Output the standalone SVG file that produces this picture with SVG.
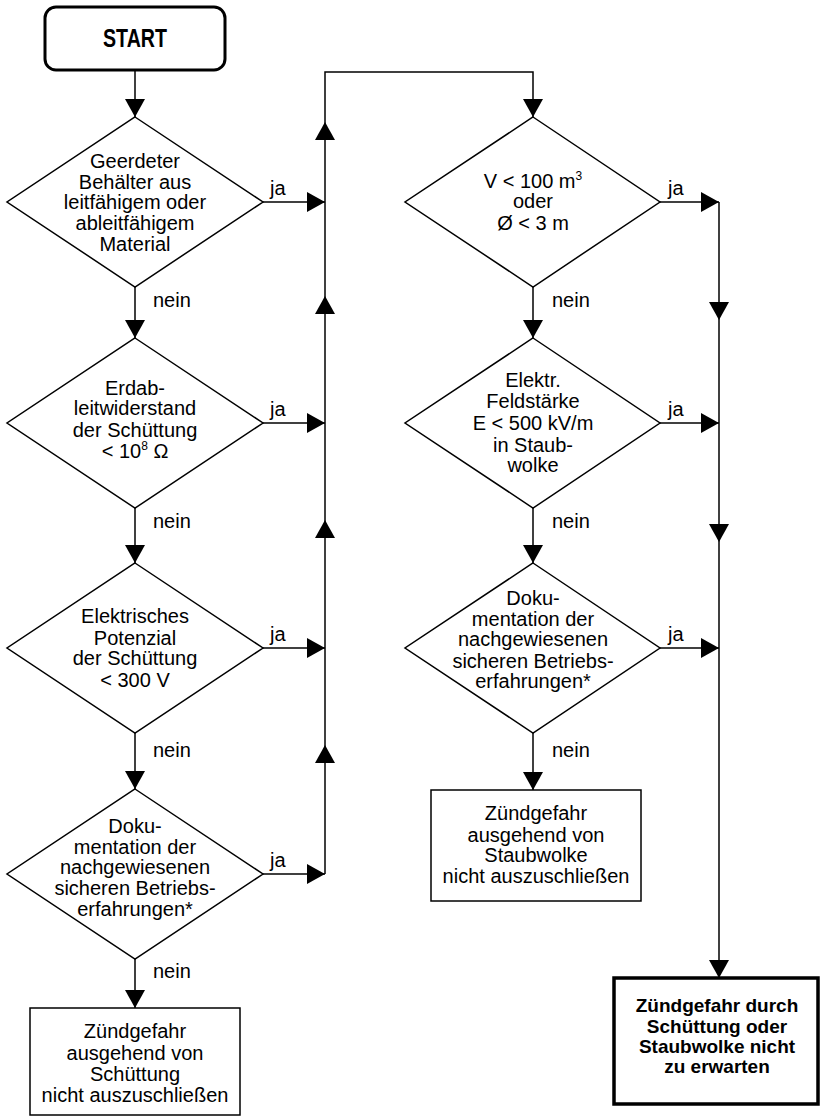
<svg xmlns="http://www.w3.org/2000/svg" width="820" height="1118" viewBox="0 0 820 1118">
<defs>
<marker id="ah" viewBox="0 0 18 20" refX="18" refY="10" markerWidth="18" markerHeight="20" markerUnits="userSpaceOnUse" orient="auto">
<path d="M0,0 L18,10 L0,20 Z" fill="#000"/>
</marker>
<style>
.shape{fill:#fff;stroke:#000;stroke-width:1.5}
.t{font-family:"Liberation Sans",Arial,sans-serif;font-size:20px;fill:#000;text-anchor:middle}
.b{font-family:"Liberation Sans",Arial,sans-serif;font-size:19px;font-weight:bold;fill:#000;text-anchor:middle}
.lbl{font-family:"Liberation Sans",Arial,sans-serif;font-size:20px;fill:#000}
.c{fill:none;stroke:#000;stroke-width:1.5;marker-end:url(#ah)}
.c0{fill:none;stroke:#000;stroke-width:1.5}
</style>
</defs>
<rect width="820" height="1118" fill="#fff"/>

<g id="connectors">
<path class="c" d="M135,70 L135,117"/>
<path class="c" d="M135,287 L135,338"/>
<path class="c" d="M135,508 L135,563"/>
<path class="c" d="M135,733 L135,789"/>
<path class="c" d="M135,959 L135,1008"/>
<path class="c" d="M263,202 L325,202"/>
<path class="c" d="M263,423 L325,423"/>
<path class="c" d="M263,648 L325,648"/>
<path class="c" d="M263,874 L325,874"/>
<path class="c" d="M325,874 L325,745"/>
<path class="c" d="M325,745 L325,520"/>
<path class="c" d="M325,520 L325,296"/>
<path class="c" d="M325,296 L325,122"/>
<path class="c" d="M325,122 L325,72 L533,72 L533,117"/>
<path class="c" d="M533,287 L533,338"/>
<path class="c" d="M533,508 L533,563"/>
<path class="c" d="M533,733 L533,790"/>
<path class="c" d="M660,202 L719,202"/>
<path class="c" d="M660,423 L719,423"/>
<path class="c" d="M660,648 L719,648"/>
<path class="c" d="M719,202 L719,320"/>
<path class="c" d="M719,320 L719,542"/>
<path class="c" d="M719,542 L719,978"/>
<text class="lbl" x="270" y="195">ja</text>
<text class="lbl" x="270" y="416">ja</text>
<text class="lbl" x="270" y="641">ja</text>
<text class="lbl" x="270" y="867">ja</text>
<text class="lbl" x="668" y="195">ja</text>
<text class="lbl" x="668" y="416">ja</text>
<text class="lbl" x="668" y="641">ja</text>
<text class="lbl" x="153" y="307">nein</text>
<text class="lbl" x="153" y="528">nein</text>
<text class="lbl" x="153" y="757">nein</text>
<text class="lbl" x="153" y="978">nein</text>
<text class="lbl" x="552" y="307">nein</text>
<text class="lbl" x="552" y="528">nein</text>
<text class="lbl" x="552" y="757">nein</text>
</g>

<g id="start">
<rect x="45" y="7" width="180" height="63" rx="11" fill="#fff" stroke="#000" stroke-width="3"/>
<text x="135" y="47" font-family="Liberation Sans, Arial, sans-serif" font-size="25" font-weight="bold" text-anchor="middle" textLength="64" lengthAdjust="spacingAndGlyphs">START</text>
</g>

<g id="d1">
<polygon class="shape" points="135,117 263,202 135,287 7,202"/>
<text class="t" x="135" y="168">Geerdeter</text>
<text class="t" x="135" y="189">Behälter aus</text>
<text class="t" x="135" y="209">leitfähigem oder</text>
<text class="t" x="135" y="230">ableitfähigem</text>
<text class="t" x="135" y="251">Material</text>
</g>

<g id="d2">
<polygon class="shape" points="135,338 263,423 135,508 7,423"/>
<text class="t" x="135" y="395">Erdab-</text>
<text class="t" x="135" y="415">leitwiderstand</text>
<text class="t" x="135" y="437">der Schüttung</text>
<text class="t" x="135" y="458">&lt; 10<tspan font-size="12" dy="-8">8</tspan><tspan dy="8"> Ω</tspan></text>
</g>

<g id="d3">
<polygon class="shape" points="135,563 263,648 135,733 7,648"/>
<text class="t" x="135" y="623">Elektrisches</text>
<text class="t" x="135" y="645">Potenzial</text>
<text class="t" x="135" y="665">der Schüttung</text>
<text class="t" x="135" y="687">&lt; 300 V</text>
</g>

<g id="d4">
<polygon class="shape" points="135,789 263,874 135,959 7,874"/>
<text class="t" x="135" y="833">Doku-</text>
<text class="t" x="135" y="854">mentation der</text>
<text class="t" x="135" y="874">nachgewiesenen</text>
<text class="t" x="135" y="895">sicheren Betriebs-</text>
<text class="t" x="135" y="916">erfahrungen*</text>
</g>

<g id="box1">
<rect class="shape" x="30" y="1008" width="210" height="107"/>
<text class="t" x="135" y="1038">Zündgefahr</text>
<text class="t" x="135" y="1060">ausgehend von</text>
<text class="t" x="135" y="1081">Schüttung</text>
<text class="t" x="135" y="1102">nicht auszuschließen</text>
</g>

<g id="d5">
<polygon class="shape" points="533,117 660,202 533,287 405,202"/>
<text class="t" x="533" y="188">V &lt; 100 m<tspan font-size="12" dy="-8">3</tspan></text>
<text class="t" x="533" y="208">oder</text>
<text class="t" x="533" y="230">Ø &lt; 3 m</text>
</g>

<g id="d6">
<polygon class="shape" points="533,338 660,423 533,508 405,423"/>
<text class="t" x="533" y="387">Elektr.</text>
<text class="t" x="533" y="408">Feldstärke</text>
<text class="t" x="533" y="430">E &lt; 500 kV/m</text>
<text class="t" x="533" y="452">in Staub-</text>
<text class="t" x="533" y="472">wolke</text>
</g>

<g id="d7">
<polygon class="shape" points="533,563 660,648 533,733 405,648"/>
<text class="t" x="533" y="605">Doku-</text>
<text class="t" x="533" y="626">mentation der</text>
<text class="t" x="533" y="646">nachgewiesenen</text>
<text class="t" x="533" y="668">sicheren Betriebs-</text>
<text class="t" x="533" y="688">erfahrungen*</text>
</g>

<g id="box2">
<rect class="shape" x="431" y="790" width="210" height="111"/>
<text class="t" x="536" y="820">Zündgefahr</text>
<text class="t" x="536" y="842">ausgehend von</text>
<text class="t" x="536" y="862">Staubwolke</text>
<text class="t" x="536" y="883">nicht auszuschließen</text>
</g>

<g id="final">
<rect x="614" y="978" width="204" height="126" fill="#fff" stroke="#000" stroke-width="3.5"/>
<text class="b" x="717" y="1012">Zündgefahr durch</text>
<text class="b" x="717" y="1033">Schüttung oder</text>
<text class="b" x="717" y="1053">Staubwolke nicht</text>
<text class="b" x="717" y="1073">zu erwarten</text>
</g>
</svg>
